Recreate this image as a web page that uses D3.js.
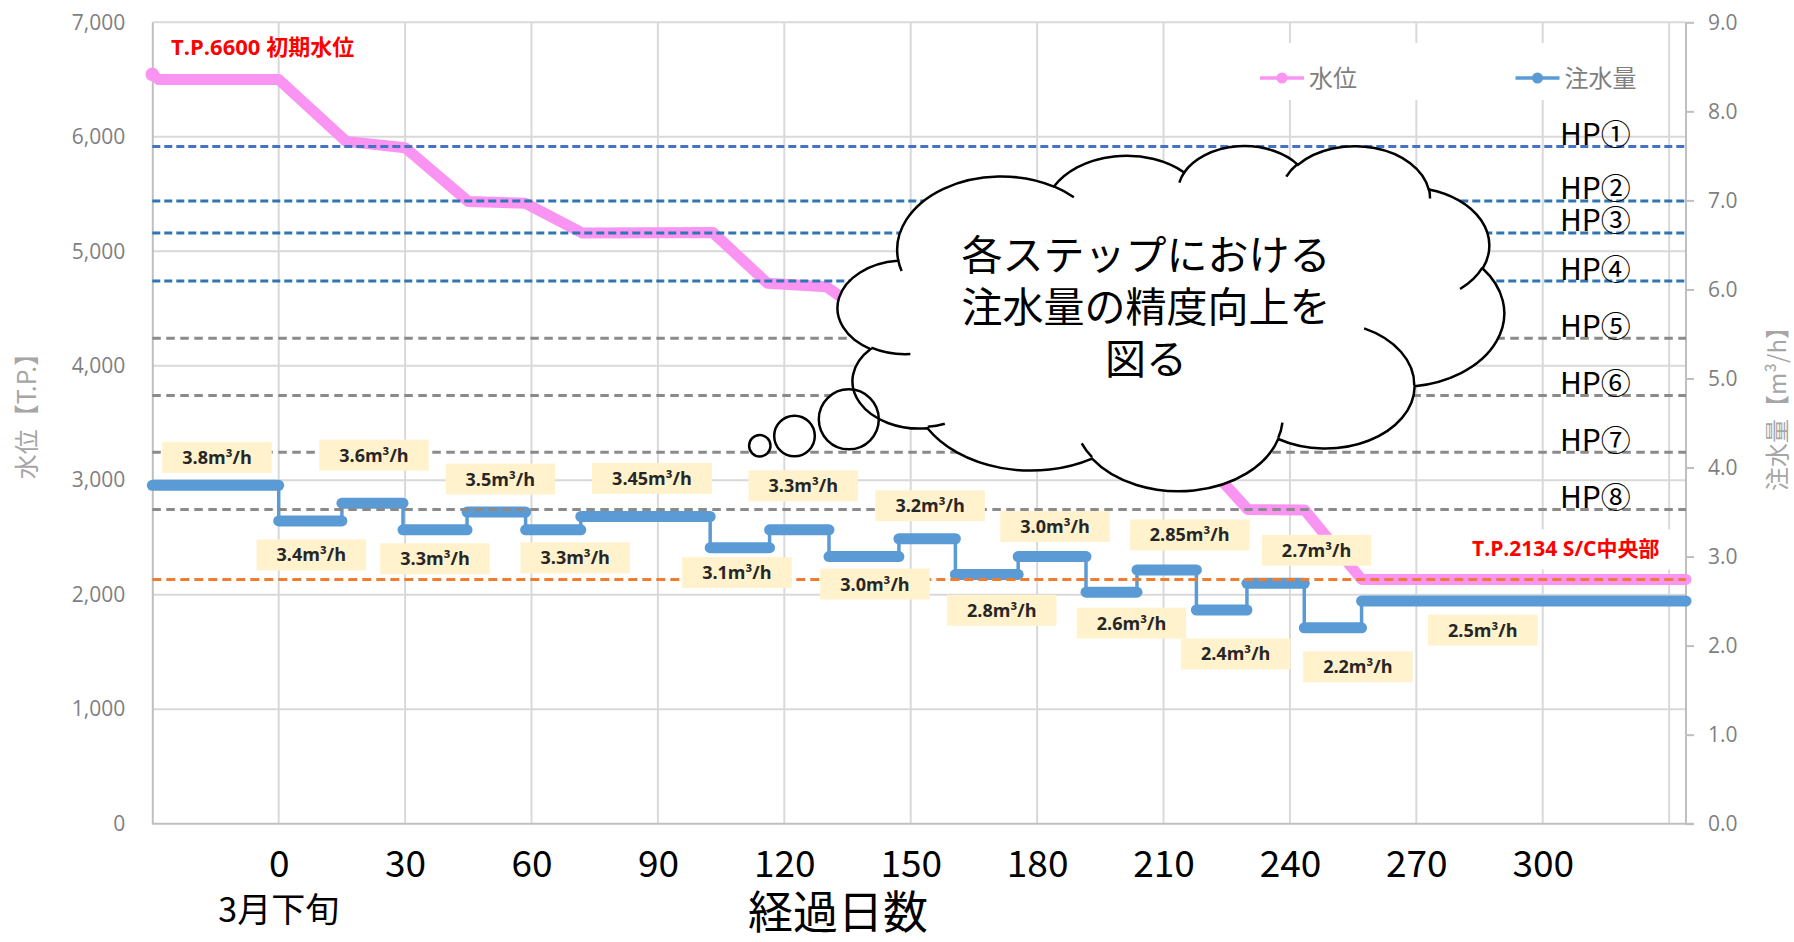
<!DOCTYPE html>
<html>
<head>
<meta charset="utf-8">
<script src="https://cdn.jsdelivr.net/npm/d3@7"></script>
<style>
  html, body { margin: 0; padding: 0; background: #fff; }
  svg { display: block; }
</style>
</head>
<body>
<svg id="chart" width="1794" height="942"></svg>
<script>
// ---------------- data ----------------
// water level (T.P.) against elapsed days
const levelDays   = [-30, -28.5, 0, 16, 30, 45, 58.5, 72, 103, 116, 130, 147, 161, 175, 191.5, 204, 218, 230, 243.5, 257, 334];
const levelValues = [6545, 6500, 6500, 5960, 5905, 5435, 5420, 5160, 5165, 4720, 4690, 4250, 4230, 3745, 3730, 3250, 3230, 2745, 2740, 2134, 2134];

// injection rate steps (m3/h): step i runs from stepBounds[i] to stepBounds[i+1]
const stepBounds = [-30, 0, 15, 29.5, 44.7, 58.6, 71.7, 102.4, 116.5, 130.6, 147.2, 160.6, 175.5, 191.6, 203.7, 217.8, 229.8, 243.4, 257, 334];
const stepRates  = [3.8, 3.4, 3.6, 3.3, 3.5, 3.3, 3.45, 3.1, 3.3, 3.0, 3.2, 2.8, 3.0, 2.6, 2.85, 2.4, 2.7, 2.2, 2.5];

// reference levels
const hpNames  = ["HP①", "HP②", "HP③", "HP④", "HP⑤", "HP⑥", "HP⑦", "HP⑧"];
const hpLevels = [5915, 5440, 5160, 4740, 4240, 3740, 3245, 2745];
const scLevel  = 2134;

// axis ticks
const xTickValues = [0, 30, 60, 90, 120, 150, 180, 210, 240, 270, 300];
const xGridValues = [0, 30, 60, 90, 120, 150, 180, 210, 240, 270, 300, 330];
const leftTicks   = [0, 1000, 2000, 3000, 4000, 5000, 6000, 7000];
const rightTicks  = [0, 1, 2, 3, 4, 5, 6, 7, 8, 9];

// ---------------- layout ----------------
const plot = { left: 152.3, right: 1686, top: 22.3, bottom: 823.7 };
// label box placement relative to the middle of each rate step [dx, dy] in px
const labelNudge = [
  [1.5, -28], [1, 34], [1.5, -48], [0, 29], [4, -33], [22, 28], [6.5, -38], [-3, 25],
  [4, -44], [11, 27.5], [3, -33], [15, 36], [3, -30], [20, 31], [23, -35], [14, 44],
  [41, -33], [25, 39], [-41, 29]
];

const COL = {
  grid: "#d9d9d9", axis: "#bfbfbf", tick: "#7f7f7f", title: "#a6a6a6",
  level: "#fa94f2", rate: "#5b9bd5", hpBlue1: "#4472c4", hpBlue: "#2e75b6",
  hpGrey: "#8a8a8a", sc: "#ed7d31", box: "#fff2cc", red: "#ff0000"
};
const LATIN = "'Open Sans', 'Noto Sans CJK JP', sans-serif";
const CJK = "'Noto Sans CJK JP', 'Noto Sans', sans-serif";

const svg = d3.select("#chart");
svg.append("rect").attr("width", 1794).attr("height", 942).attr("fill", "#fff");

const x = d3.scaleLinear().domain([-30, 334]).range([plot.left, plot.right]);
const yL = d3.scaleLinear().domain([0, 7000]).range([plot.bottom, plot.top]);
const yR = d3.scaleLinear().domain([0, 9]).range([plot.bottom, plot.top]);

// ---------------- grid ----------------
const grid = svg.append("g");
grid.selectAll("line.h").data(leftTicks.filter(d => d > 0)).join("line")
  .attr("x1", plot.left).attr("x2", plot.right)
  .attr("y1", d => yL(d)).attr("y2", d => yL(d))
  .attr("stroke", COL.grid).attr("stroke-width", 2);
grid.selectAll("line.v").data(xGridValues).join("line")
  .attr("x1", d => x(d)).attr("x2", d => x(d))
  .attr("y1", plot.top).attr("y2", plot.bottom)
  .attr("stroke", COL.grid).attr("stroke-width", 2);

// ---------------- axes ----------------
const axL = svg.append("g").attr("transform", `translate(${plot.left},0)`)
  .call(d3.axisLeft(yL).tickValues(leftTicks).tickFormat(d3.format(",")).tickSize(0).tickPadding(27));
axL.select(".domain").attr("stroke", COL.axis).attr("stroke-width", 2);
axL.selectAll("text").attr("font-family", LATIN).attr("font-size", 21).attr("fill", COL.tick);

const axR = svg.append("g").attr("transform", `translate(${plot.right},0)`)
  .call(d3.axisRight(yR).tickValues(rightTicks).tickFormat(d3.format(".1f")).tickSize(8).tickPadding(14));
axR.select(".domain").attr("stroke", COL.axis).attr("stroke-width", 2).attr("d", `M0,${plot.top}V${plot.bottom}`);
axR.selectAll(".tick line").attr("stroke", COL.axis).attr("stroke-width", 2);
axR.selectAll("text").attr("font-family", LATIN).attr("font-size", 21).attr("fill", COL.tick);

const axB = svg.append("g").attr("transform", `translate(0,${plot.bottom})`)
  .call(d3.axisBottom(x).tickValues(xTickValues).tickSize(0).tickPadding(27));
axB.select(".domain").attr("stroke", COL.axis).attr("stroke-width", 2)
  .attr("d", `M${plot.left},0H${plot.right + 8}`);
axB.selectAll("text").attr("font-family", CJK).attr("font-size", 37).attr("fill", "#000");

// axis titles
svg.append("text").attr("transform", "translate(36,410) rotate(-90)")
  .attr("text-anchor", "middle").attr("font-family", CJK).attr("font-size", 25)
  .attr("fill", COL.title).text("水位【T.P.】");
svg.append("text").attr("transform", "translate(1786,403) rotate(-90)")
  .attr("text-anchor", "middle").attr("font-family", CJK).attr("font-size", 24)
  .attr("fill", COL.title).text("注水量【m³/h】");
svg.append("text").attr("x", x(0)).attr("y", 922).attr("text-anchor", "middle")
  .attr("font-family", CJK).attr("font-size", 34).attr("fill", "#000").text("3月下旬");
svg.append("text").attr("x", 838).attr("y", 929).attr("text-anchor", "middle")
  .attr("font-family", CJK).attr("font-size", 45).attr("fill", "#000").text("経過日数");

// ---------------- water level ----------------
const levelPts = levelDays.map((d, i) => [d, levelValues[i]]);
svg.append("path").datum(levelPts)
  .attr("d", d3.line().x(d => x(d[0])).y(d => yL(d[1])))
  .attr("fill", "none").attr("stroke", COL.level).attr("stroke-width", 11)
  .attr("stroke-linecap", "round").attr("stroke-linejoin", "round");
svg.append("circle").attr("cx", x(levelDays[0])).attr("cy", yL(levelValues[0]))
  .attr("r", 6.8).attr("fill", COL.level);

// ---------------- injection rate steps ----------------
const steps = stepRates.map((v, i) => ({ v, a: stepBounds[i], b: stepBounds[i + 1], i }));
const rateG = svg.append("g");
rateG.selectAll("line.conn").data(steps.slice(1)).join("line")
  .attr("x1", d => x(d.a)).attr("x2", d => x(d.a))
  .attr("y1", d => yR(stepRates[d.i - 1])).attr("y2", d => yR(d.v))
  .attr("stroke", COL.rate).attr("stroke-width", 3.5);
rateG.selectAll("line.seg").data(steps).join("line")
  .attr("x1", d => x(d.a)).attr("x2", d => x(d.b))
  .attr("y1", d => yR(d.v)).attr("y2", d => yR(d.v))
  .attr("stroke", COL.rate).attr("stroke-width", 11).attr("stroke-linecap", "round");

// ---------------- reference levels (dashed) ----------------
const hpG = svg.append("g");
hpLevels.forEach((lv, i) => {
  const blue = i < 4;
  hpG.append("line").attr("x1", plot.left).attr("x2", plot.right)
    .attr("y1", yL(lv)).attr("y2", yL(lv))
    .attr("stroke", blue ? (i === 0 ? COL.hpBlue1 : COL.hpBlue) : COL.hpGrey)
    .attr("stroke-width", 3).attr("stroke-dasharray", blue ? "8,4" : "8.5,5.5");
});
hpG.append("line").attr("x1", plot.left).attr("x2", plot.right)
  .attr("y1", yL(scLevel)).attr("y2", yL(scLevel))
  .attr("stroke", COL.sc).attr("stroke-width", 3).attr("stroke-dasharray", "9,5");

hpG.selectAll("text.hp").data(hpLevels).join("text")
  .attr("x", 1560).attr("y", d => yL(d) - 1.5)
  .attr("font-family", CJK).attr("font-size", 30).attr("fill", "#000")
  .text((d, i) => hpNames[i]);

// ---------------- rate labels ----------------
const fmtRate = v => (Math.abs(v * 10 - Math.round(v * 10)) < 1e-9 ? v.toFixed(1) : v.toFixed(2)) + "m³/h";
const labG = svg.append("g");
steps.forEach((s, i) => {
  const cx = x((s.a + s.b) / 2) + labelNudge[i][0];
  const cy = yR(s.v) + labelNudge[i][1];
  const g = labG.append("g");
  const rect = g.append("rect").attr("fill", COL.box);
  const t = g.append("text").attr("x", cx).attr("y", cy).attr("dy", "0.36em")
    .attr("text-anchor", "middle").attr("font-family", LATIN).attr("font-weight", "bold")
    .attr("font-size", 18).attr("fill", "#262626").text(fmtRate(s.v));
  const w = t.node().getComputedTextLength() + 40, h = 31;
  rect.attr("x", cx - w / 2).attr("y", cy - h / 2).attr("width", w).attr("height", h);
});

// ---------------- annotations ----------------
svg.append("text").attr("x", 171).attr("y", 55)
  .attr("font-family", LATIN).attr("font-weight", "bold").attr("font-size", 22)
  .attr("fill", COL.red).text("T.P.6600 初期水位");
svg.append("rect").attr("x", 1462).attr("y", yL(scLevel) - 50).attr("width", 210).attr("height", 40).attr("fill", "#fff");
svg.append("text").attr("x", 1472).attr("y", 556)
  .attr("font-family", LATIN).attr("font-weight", "bold").attr("font-size", 21)
  .attr("fill", COL.red).text("T.P.2134 S/C中央部");

// ---------------- legend ----------------
const lg = svg.append("g");
lg.append("rect").attr("x", 1245).attr("y", 43).attr("width", 412).attr("height", 57).attr("fill", "#fff");
[["水位", COL.level, 1260], ["注水量", COL.rate, 1515.5]].forEach(([name, c, lx]) => {
  lg.append("line").attr("x1", lx).attr("x2", lx + 44).attr("y1", 78).attr("y2", 78)
    .attr("stroke", c).attr("stroke-width", 3.5);
  lg.append("circle").attr("cx", lx + 22).attr("cy", 78).attr("r", 5.5).attr("fill", c);
  lg.append("text").attr("x", lx + 49).attr("y", 78).attr("dy", "0.36em")
    .attr("font-family", CJK).attr("font-size", 24).attr("fill", COL.tick).text(name);
});

// ---------------- thought cloud ----------------
// DrawingML "cloud" preset geometry, 43200 x 43200 shape units
const CLOUD_START = [3900, 14370];
const CLOUD_ARCS = [
  [6753, 9190, -11429249, 7426832], [5333, 7267, -8646143, 5396714],
  [4365, 5945, -8748475, 5983381], [4857, 6595, -7859164, 7034504],
  [5333, 7273, -4722533, 6541615], [6775, 9220, -2776035, 7816140],
  [5785, 7867, 37501, 6842000], [6752, 9215, 1347096, 6910353],
  [7720, 10543, 3974558, 4542661], [4360, 5918, -16496525, 8804134],
  [4345, 5945, -14809710, 9151131]
];
const CLOUD_INNER = [
  [[4693, 26177], [4345, 5945, 5204520, 1585770]],
  [[6928, 34899], [4360, 5918, 4416628, 686848]],
  [[16478, 39090], [6752, 9215, 8257449, 844866]],
  [[28827, 34751], [6752, 9215, 387196, 959901]],
  [[34129, 22954], [5785, 7867, -4217541, 4255042]],
  [[41798, 15354], [5333, 7273, 1819082, 1665090]],
  [[38324, 5426], [4857, 6595, -824660, 891534]],
  [[29078, 3952], [4857, 6595, -8950887, 1091722]],
  [[22141, 4720], [4365, 5945, -9809656, 1061181]],
  [[14000, 5192], [6753, 9190, -4002417, 739161]],
  [[4127, 15789], [6753, 9190, 9459261, 711490]]
];
const cloudBox = { x: 838, y: 145, w: 666, h: 345 };
function cloudPath(start, arcs, closed) {
  const sx = cloudBox.w / 43200, sy = cloudBox.h / 43200;
  const X = v => cloudBox.x + v * sx, Y = v => cloudBox.y + v * sy;
  let [px, py] = start;
  let d = `M${X(px)},${Y(py)}`;
  arcs.forEach(([wR, hR, st, sw]) => {
    const a1 = st / 60000 * Math.PI / 180, a2 = (st + sw) / 60000 * Math.PI / 180;
    const t1 = Math.atan2(wR * Math.sin(a1), hR * Math.cos(a1));
    const t2 = Math.atan2(wR * Math.sin(a2), hR * Math.cos(a2));
    const cx = px - wR * Math.cos(t1), cy = py - hR * Math.sin(t1);
    const ex = cx + wR * Math.cos(t2), ey = cy + hR * Math.sin(t2);
    const large = Math.abs(sw) > 180 * 60000 ? 1 : 0, sweep = sw > 0 ? 1 : 0;
    d += `A${wR * sx},${hR * sy} 0 ${large} ${sweep} ${X(ex)},${Y(ey)}`;
    px = ex; py = ey;
  });
  return closed ? d + "Z" : d;
}
const bubbles = [[759.8, 445.8, 10.7], [794.5, 436, 20.3], [848.8, 419.3, 30]];
const cg = svg.append("g");
const bodyD = cloudPath(CLOUD_START, CLOUD_ARCS, true);
cg.append("path").attr("d", bodyD).attr("fill", "#fff");
cg.selectAll("circle.fill").data(bubbles).join("circle")
  .attr("cx", d => d[0]).attr("cy", d => d[1]).attr("r", d => d[2]).attr("fill", "#fff");
cg.append("path").attr("d", bodyD).attr("fill", "none").attr("stroke", "#000").attr("stroke-width", 2.5);
CLOUD_INNER.forEach(([s, arc]) => {
  cg.append("path").attr("d", cloudPath(s, [arc], false))
    .attr("fill", "none").attr("stroke", "#000").attr("stroke-width", 2.5);
});
cg.selectAll("circle.line").data(bubbles).join("circle")
  .attr("cx", d => d[0]).attr("cy", d => d[1]).attr("r", d => d[2])
  .attr("fill", "none").attr("stroke", "#000").attr("stroke-width", 2.5);
["各ステップにおける", "注水量の精度向上を", "図る"].forEach((ln, i) => {
  cg.append("text").attr("x", 1146).attr("y", 270 + i * 52).attr("text-anchor", "middle")
    .attr("font-family", CJK).attr("font-size", 41).attr("fill", "#000").text(ln);
});
</script>
</body>
</html>
